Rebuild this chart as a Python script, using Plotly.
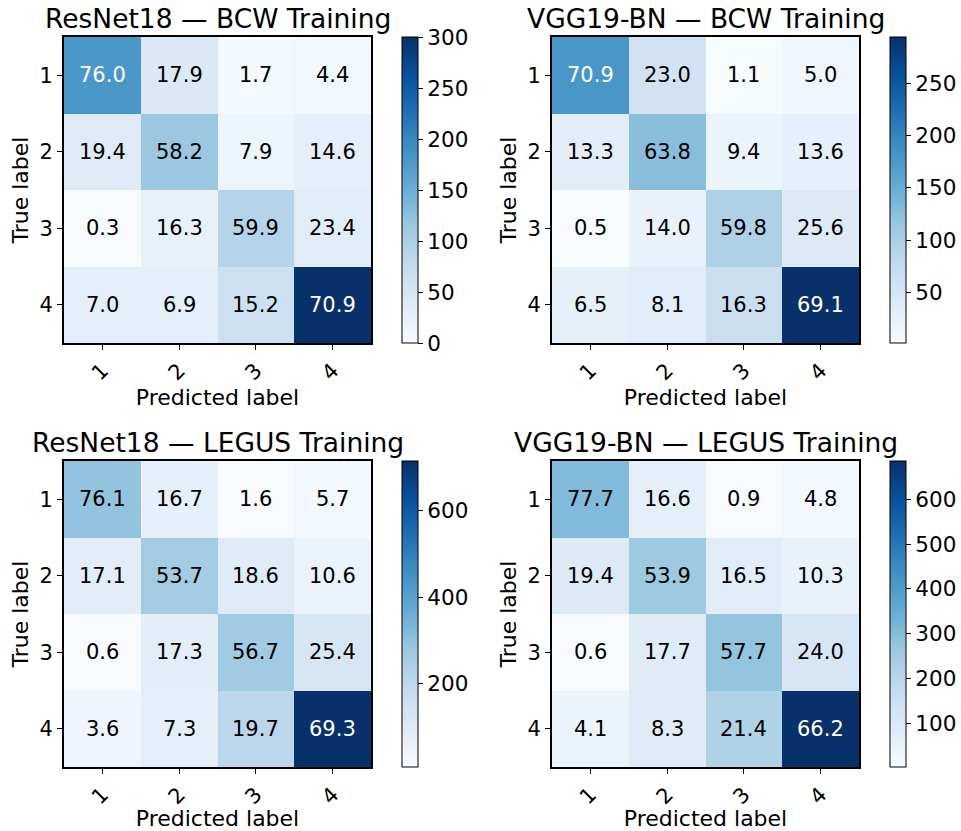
import plotly.graph_objects as go

labels = ["1", "2", "3", "4"]
titles = ["ResNet18 — BCW Training", "VGG19-BN — BCW Training",
          "ResNet18 — LEGUS Training", "VGG19-BN — LEGUS Training"]

# percentages shown in cells (row-normalised)
pct_resnet_bcw = [[76.0, 17.9, 1.7, 4.4], [19.4, 58.2, 7.9, 14.6],
                  [0.3, 16.3, 59.9, 23.4], [7.0, 6.9, 15.2, 70.9]]
pct_vgg_bcw = [[70.9, 23.0, 1.1, 5.0], [13.3, 63.8, 9.4, 13.6],
               [0.5, 14.0, 59.8, 25.6], [6.5, 8.1, 16.3, 69.1]]
pct_resnet_legus = [[76.1, 16.7, 1.6, 5.7], [17.1, 53.7, 18.6, 10.6],
                    [0.6, 17.3, 56.7, 25.4], [3.6, 7.3, 19.7, 69.3]]
pct_vgg_legus = [[77.7, 16.6, 0.9, 4.8], [19.4, 53.9, 16.5, 10.3],
                 [0.6, 17.7, 57.7, 24.0], [4.1, 8.3, 21.4, 66.2]]

# estimated counts driving the colour
cnt_resnet_bcw = [[180, 42, 4, 10], [38, 115, 16, 29],
                  [0, 24, 90, 35], [30, 29, 64, 300]]
cnt_vgg_bcw = [[178, 58, 3, 13], [33, 127, 19, 27],
               [2, 23, 97, 41], [28, 34, 69, 294]]
cnt_resnet_legus = [[290, 64, 6, 22], [83, 260, 90, 51],
                    [5, 81, 265, 119], [37, 75, 204, 716]]
cnt_vgg_legus = [[308, 66, 4, 19], [94, 260, 80, 50],
                 [3, 84, 275, 114], [42, 86, 221, 685]]

# colourbar tick steps
cbar_dtick = [50, 50, 200, 100]

pcts = [pct_resnet_bcw, pct_vgg_bcw, pct_resnet_legus, pct_vgg_legus]
cnts = [cnt_resnet_bcw, cnt_vgg_bcw, cnt_resnet_legus, cnt_vgg_legus]

blues = [[0.0, "#f7fbff"], [0.125, "#deebf7"], [0.25, "#c6dbef"], [0.375, "#9ecae1"],
         [0.5, "#6baed6"], [0.625, "#4292c6"], [0.75, "#2171b5"], [0.875, "#08519c"],
         [1.0, "#08306b"]]

W, H = 961, 831
FONT = "DejaVu Sans"
# layout (pixels): heatmap boxes and colorbar x
xpx = [(64, 371), (552, 859)]
ypx = [(37, 343), (461, 767)]
cbx = [402, 890]

fig = go.Figure()
annotations = []
layout = {}
for k in range(4):
    r, c = divmod(k, 2)
    ax = "" if k == 0 else str(k + 1)
    x0, x1 = xpx[c]
    y0, y1 = ypx[r]
    z = cnts[k]
    zmax = max(max(row) for row in z)
    zmin = min(min(row) for row in z)
    fig.add_trace(go.Heatmap(
        z=z, x=labels, y=labels, xaxis="x" + ax, yaxis="y" + ax,
        colorscale=blues, zmin=zmin, zmax=zmax, xgap=0, ygap=0,
        hoverinfo="skip",
        colorbar=dict(
            x=cbx[c] / W, xanchor="left", xpad=0, ypad=0,
            y=1 - (y0 + y1) / 2 / H, yanchor="middle",
            len=y1 - y0, lenmode="pixels", thickness=16,
            outlinewidth=1, outlinecolor="black",
            tick0=0, dtick=cbar_dtick[k],
            ticks="outside", ticklen=5, tickwidth=1, tickcolor="black",
            tickfont=dict(family=FONT, size=21.5, color="black"),
        ),
    ))
    layout["xaxis" + ax] = dict(
        domain=[x0 / W, x1 / W], anchor="y" + ax, type="category",
        range=[-0.5, 3.5], ticks="outside", ticklen=5, tickwidth=1.2,
        tickcolor="black", tickangle=-45,
        tickfont=dict(family=FONT, size=21, color="black"),
        showline=True, mirror=True, linecolor="black", linewidth=1.8,
        showgrid=False, zeroline=False,
        title=dict(text="Predicted label", font=dict(family=FONT, size=22, color="black"), standoff=4),
    )
    layout["yaxis" + ax] = dict(
        domain=[1 - y1 / H, 1 - y0 / H], anchor="x" + ax, type="category",
        range=[3.5, -0.5], ticks="outside", ticklen=5, tickwidth=1.2,
        tickcolor="black",
        tickfont=dict(family=FONT, size=21, color="black"),
        showline=True, mirror=True, linecolor="black", linewidth=1.8,
        showgrid=False, zeroline=False,
        title=dict(text="True label", font=dict(family=FONT, size=22, color="black"), standoff=5),
    )
    thresh = zmax / 2.0
    for i in range(4):
        for j in range(4):
            annotations.append(dict(
                x=j, y=i, xref="x" + ax, yref="y" + ax,
                text=f"{pcts[k][i][j]:.1f}", showarrow=False,
                font=dict(family=FONT, size=21,
                          color="white" if z[i][j] > thresh else "black"),
            ))
    annotations.append(dict(
        x=(x0 + x1) / 2 / W, y=1 - (y0 - 18) / H, xref="paper", yref="paper",
        text=titles[k], showarrow=False, xanchor="center", yanchor="middle",
        font=dict(family=FONT, size=26.5, color="black"),
    ))

fig.update_layout(
    width=W, height=H, margin=dict(l=0, r=0, t=0, b=0),
    paper_bgcolor="white", plot_bgcolor="white",
    annotations=annotations, **layout,
)
fig.write_html("out.html", config={"displayModeBar": False},
               post_script="document.body.style.margin='0px';")
